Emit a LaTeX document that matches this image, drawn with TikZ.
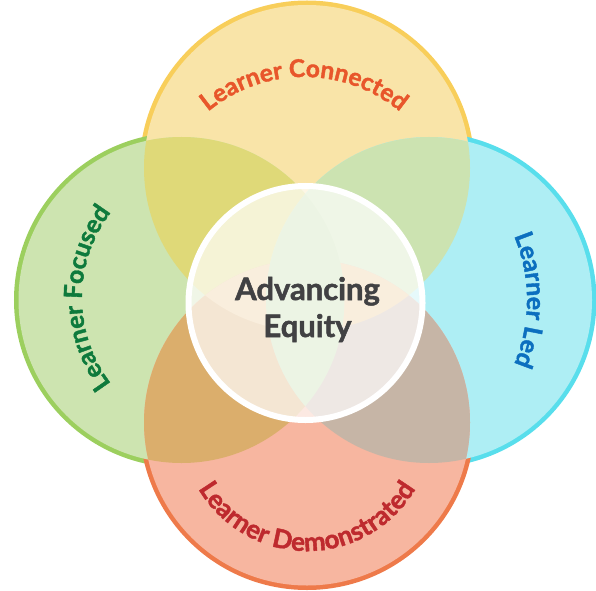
\documentclass[tikz,border=0pt]{standalone}
\usepackage{fontspec}
\setsansfont{Lato}[BoldFeatures={FakeBold=1.6}]
\usetikzlibrary{decorations.text,calc}
\definecolor{topfill}{HTML}{F9E4A8}
\definecolor{topline}{HTML}{F8CE5A}
\definecolor{leftfill}{HTML}{CDE4B0}
\definecolor{leftline}{HTML}{9CCF5E}
\definecolor{rightfill}{HTML}{AEEEF4}
\definecolor{rightline}{HTML}{58DEEC}
\definecolor{botfill}{HTML}{F7B6A0}
\definecolor{botline}{HTML}{EE7A4A}
\definecolor{tlfill}{HTML}{DFD978}
\definecolor{trfill}{HTML}{CCE3B1}
\definecolor{blfill}{HTML}{DBAE6C}
\definecolor{brfill}{HTML}{C6B5A6}
\definecolor{tbfill}{HTML}{EEC690}
\definecolor{lrfill}{HTML}{C2DDA6}
\definecolor{toptext}{HTML}{E8562B}
\definecolor{lefttext}{HTML}{0E7A3C}
\definecolor{righttext}{HTML}{0C6FBF}
\definecolor{bottext}{HTML}{BE2A2E}
\definecolor{centertext}{HTML}{414143}
\tikzset{
  ring/.style={line width=9pt},
  ctext/.style={font=\sffamily\bfseries\fontsize{31}{30}\selectfont, text=centertext, inner sep=0pt, anchor=base},
  lbl/.style={decorate, decoration={text along path, text align=center, text color=#1}},
}
\begin{document}
\begin{tikzpicture}[x=1pt,y=1pt]
\useasboundingbox (0,0) rectangle (596,590);
\coordinate (T) at (307,422);
\coordinate (B) at (307,167.5);
\coordinate (L) at (181.5,290);
\coordinate (R) at (429,290);
\coordinate (C) at (305.5,287);
% outer strokes
\draw[ring, topline] (T) circle[radius=163];
\draw[ring, leftline] (L) circle[radius=163];
\draw[ring, rightline] (R) circle[radius=163];
\draw[ring, botline] (B) circle[radius=163];
% fills
\fill[topfill] (T) circle[radius=163];
\fill[leftfill] (L) circle[radius=163];
\fill[rightfill] (R) circle[radius=163];
\fill[botfill] (B) circle[radius=163];
% overlaps
\begin{scope}\clip (T) circle[radius=163]; \fill[tlfill] (L) circle[radius=163]; \end{scope}
\begin{scope}\clip (T) circle[radius=163]; \fill[trfill] (R) circle[radius=163]; \end{scope}
\begin{scope}\clip (B) circle[radius=163]; \fill[blfill] (L) circle[radius=163]; \end{scope}
\begin{scope}\clip (B) circle[radius=163]; \fill[brfill] (R) circle[radius=163]; \end{scope}
\begin{scope}\clip (T) circle[radius=163]; \fill[tbfill] (B) circle[radius=163]; \end{scope}
\begin{scope}\clip (L) circle[radius=163]; \fill[lrfill] (R) circle[radius=163]; \end{scope}
% centre circle
\fill[white, opacity=0.7] (C) circle[radius=117];
\draw[white, line width=6pt] (C) circle[radius=117];
% labels
\path[lbl=toptext, decoration={text={|\sffamily\bfseries\fontsize{24.5}{23}\selectfont|Learner Connected}}]
  ([shift={(160:150)}]304,363) arc[start angle=160, end angle=20, radius=150];
\path[lbl=bottext, decoration={text={|\sffamily\bfseries\fontsize{26}{23}\selectfont|Learner Demonstrated}}]
  ([shift={(190:126)}]307,165) arc[start angle=190, end angle=350, radius=126];
\path[lbl=lefttext, decoration={text={|\sffamily\bfseries\fontsize{25}{23}\selectfont|Learner Focused}}]
  ([shift={(240:141)}]223,292) arc[start angle=240, end angle=120, radius=141];
\path[lbl=righttext, decoration={text={|\sffamily\bfseries\fontsize{25}{23}\selectfont|Learner Led}}]
  ([shift={(60:165)}]362,290) arc[start angle=60, end angle=-60, radius=165];
% centre text
\node[ctext] (adv) at (307.5,290) {Advancing};
\node[ctext] (eq) at (307.5,253) {Equity};
\end{tikzpicture}
\end{document}
